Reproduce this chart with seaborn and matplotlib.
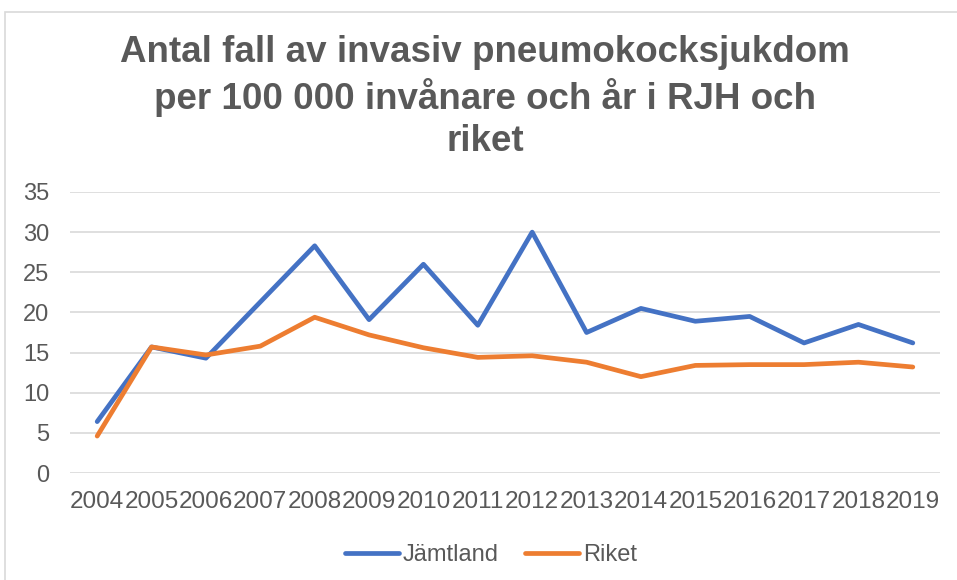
import pandas as pd
import matplotlib.pyplot as plt
import matplotlib.patches as mpatches
import seaborn as sns

# --- Data (läst från diagrammet) ---
years = [str(y) for y in range(2004, 2020)]
jamtland = [6.4, 15.7, 14.3, 21.3, 28.3, 19.1, 26.0, 18.4,
            30.0, 17.5, 20.5, 18.9, 19.5, 16.2, 18.5, 16.2]
riket = [4.6, 15.7, 14.7, 15.8, 19.4, 17.2, 15.6, 14.4,
         14.6, 13.8, 12.0, 13.4, 13.5, 13.5, 13.8, 13.2]
series_names = ["Jämtland", "Riket"]
colors = ["#4472C4", "#ED7D31"]

title = "Antal fall av invasiv pneumokocksjukdom\nper 100 000 invånare och år i RJH och\nriket"

sns.set_style("white")
plt.rcParams['font.family'] = ['Liberation Sans', 'DejaVu Sans']

df = pd.DataFrame({
    'År': years * 2,
    'idx': list(range(len(years))) * 2,
    'Värde': jamtland + riket,
    'Serie': [series_names[0]] * len(years) + [series_names[1]] * len(years),
})

fig = plt.figure(figsize=(9.57, 5.80), dpi=100)
ax = fig.add_axes([70 / 957, 107 / 580, 870 / 957, 281 / 580])

sns.lineplot(data=df, x='idx', y='Värde', hue='Serie', palette=colors,
             linewidth=3.4, ax=ax, legend=False, solid_capstyle='round')

ax.set_xlim(-0.5, len(years) - 0.5)
ax.set_ylim(0, 35)
ax.set_yticks(range(0, 36, 5))
ax.set_xticks(range(len(years)))
ax.set_xticklabels(years)
ax.yaxis.grid(True, color='#D9D9D9', linewidth=1.2)
ax.xaxis.grid(False)
for s in ax.spines.values():
    s.set_visible(False)
ax.tick_params(axis='both', length=0, colors='#595959')
ax.tick_params(axis='x', pad=13, labelsize=17.5)
ax.tick_params(axis='y', pad=15, labelsize=17)
ax.set_xlabel('')
ax.set_ylabel('')

fig.text(0.507, 1 - 97 / 580, title, ha='center', va='center',
         fontsize=26.5, fontweight='bold', color='#595959', linespacing=1.25)

handles = [plt.Line2D([], [], color=c, linewidth=3.4, solid_capstyle='round')
           for c in colors]
fig.legend(handles, series_names, loc='center', ncol=2,
           bbox_to_anchor=(491 / 957, 1 - 555 / 580), frameon=False,
           fontsize=17, labelcolor='#595959', handlelength=2.3,
           handletextpad=0.15, columnspacing=1.1)

# Diagramram (grå kant)
fig.patches.append(mpatches.Rectangle((5 / 957, -0.1), 1.2, 1.1 - 12 / 580,
                                      transform=fig.transFigure, fill=False,
                                      edgecolor='#D9D9D9', linewidth=1.2))

fig.savefig('out.png', dpi=100)
